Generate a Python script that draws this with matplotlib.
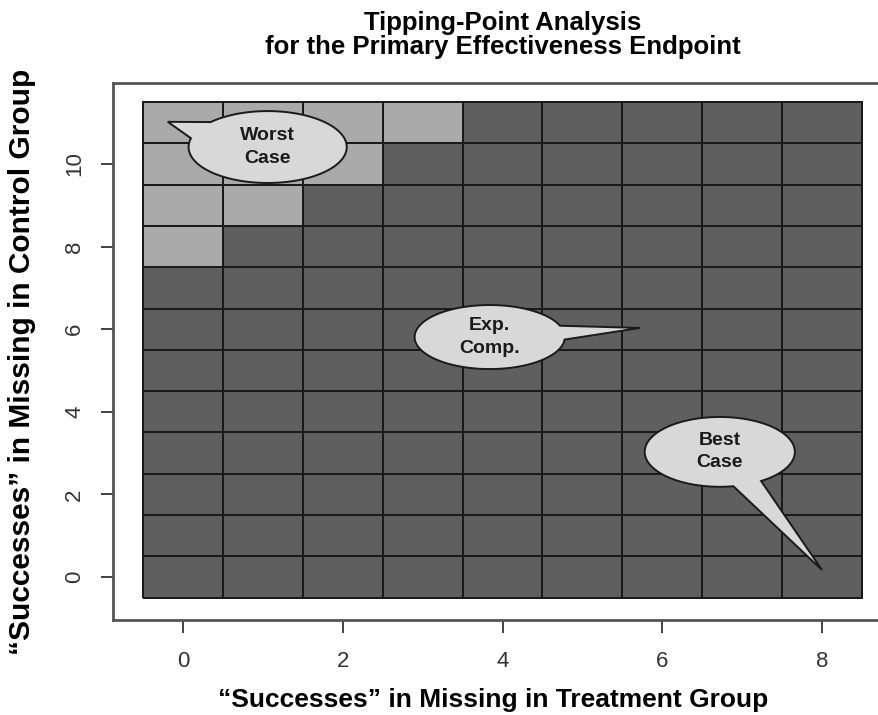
import matplotlib
matplotlib.use("Agg")
import matplotlib.pyplot as plt
import numpy as np
from matplotlib.patches import Polygon
from matplotlib.colors import ListedColormap

plt.rcParams["font.family"] = ["Liberation Sans", "DejaVu Sans"]

# imputed successes among missing subjects
treatment = np.arange(0, 9)
control = np.arange(0, 12)

# cells where the conclusion tips: (control successes, highest treatment successes)
tipped_rows = [8, 9, 10, 11]
tipped_upto = [0, 1, 2, 3]

# callouts: label, ellipse centre, ellipse size, tail tip, tail half-angle
callout_text = ["Worst\nCase", "Exp.\nComp.", "Best\nCase"]
callout_center = [(1.06, 10.41), (3.84, 5.81), (6.72, 3.03)]
callout_size = [(1.98, 1.74), (1.88, 1.55), (1.88, 1.69)]
callout_tip = [(-0.19, 11.02), (5.72, 6.03), (8.0, 0.17)]
callout_spread = [0.26, 0.22, 0.2]

status = np.zeros((len(control), len(treatment)))
for row, upto in zip(tipped_rows, tipped_upto):
    status[row, : upto + 1] = 1


def bubble(ax, center, size, tip, spread, text):
    cx, cy = center
    w, h = size
    ang = np.arctan2((tip[1] - cy) / h, (tip[0] - cx) / w)
    t = np.linspace(ang + spread, ang + 2 * np.pi - spread, 240)
    xs = np.append(cx + w / 2 * np.cos(t), tip[0])
    ys = np.append(cy + h / 2 * np.sin(t), tip[1])
    ax.add_patch(Polygon(np.column_stack([xs, ys]), closed=True,
                         facecolor="#d8d8d8", edgecolor="#1a1a1a",
                         linewidth=1.4, zorder=3))
    ax.text(cx, cy, text, ha="center", va="center", fontsize=14,
            fontweight="bold", color="#1a1a1a", linespacing=1.4, zorder=4)


fig = plt.figure(figsize=(8.79, 7.15), dpi=100)
ax = fig.add_axes([113 / 879, 95 / 715, 779 / 879, 537 / 715])

xe = np.append(treatment - 0.5, treatment[-1] + 0.5)
ye = np.append(control - 0.5, control[-1] + 0.5)
ax.pcolormesh(xe, ye, status, cmap=ListedColormap(["#5f5f5f", "#aaaaaa"]),
              edgecolors="#1a1a1a", linewidth=1.4, zorder=2)

for i in range(len(callout_text)):
    bubble(ax, callout_center[i], callout_size[i], callout_tip[i],
           callout_spread[i], callout_text[i])

ax.set_xlim(-0.876, 8.876)
ax.set_ylim(-1.04, 11.96)
ax.set_xticks([0, 2, 4, 6, 8])
ax.set_yticks([0, 2, 4, 6, 8, 10])
ax.tick_params(axis="both", direction="out", length=9, width=1.3,
               labelsize=16, labelcolor="#333333", color="#333333")
ax.tick_params(axis="x", pad=13)
ax.tick_params(axis="y", pad=11)
for lab in ax.get_yticklabels():
    lab.set_rotation(90)
    lab.set_va("center")
for sp in ax.spines.values():
    sp.set_color("#555555")
    sp.set_linewidth(2)

fig.text(503 / 879, 1 - 35 / 715,
         "Tipping-Point Analysis\nfor the Primary Effectiveness Endpoint",
         ha="center", va="center", fontsize=18.5, fontweight="bold",
         linespacing=1.0)
fig.text(493 / 879, 1 - 700 / 715,
         "\u201cSuccesses\u201d in Missing in Treatment Group",
         ha="center", va="center", fontsize=19, fontweight="bold")
fig.text(22 / 879, 1 - 362 / 715,
         "\u201cSuccesses\u201d in Missing in Control Group",
         ha="center", va="center", rotation=90, fontsize=21.5,
         fontweight="bold")

fig.savefig("out.png", dpi=100)
